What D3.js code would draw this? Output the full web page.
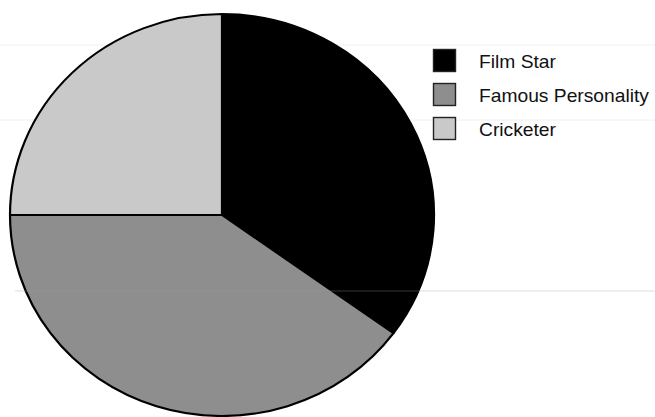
<!DOCTYPE html>
<html>
<head>
<meta charset="utf-8">
<script src="https://cdn.jsdelivr.net/npm/d3@7"></script>
<style>
  html, body { margin: 0; padding: 0; background: #ffffff; }
  svg { display: block; }
</style>
</head>
<body>
<svg id="chart" width="655" height="417"></svg>
<script>
const categories = ["Film Star", "Famous Personality", "Cricketer"];
const values = [35, 40, 25];
const colors = ["#000000", "#8e8e8e", "#c9c9c9"];

const svg = d3.select("#chart");
const W = 655, H = 417;

// faint scan lines in background
const scanLines = [45, 120];
svg.selectAll("line.scan").data(scanLines).enter().append("line")
  .attr("class", "scan")
  .attr("x1", 0).attr("x2", W)
  .attr("y1", d => d).attr("y2", d => d)
  .attr("stroke", "#f0f0f0").attr("stroke-width", 1);

const cx = 222, cy = 215, rx = 212, ry = 201;
const g = svg.append("g")
  .attr("transform", `translate(${cx},${cy}) scale(1,${ry / rx})`);

const pie = d3.pie().sort(null).value(d => d.value);
const arc = d3.arc().innerRadius(0).outerRadius(rx);
const data = categories.map((c, i) => ({ name: c, value: values[i], color: colors[i] }));

g.selectAll("path").data(pie(data)).enter().append("path")
  .attr("d", arc)
  .attr("fill", d => d.data.color)
  .attr("stroke", "#000")
  .attr("stroke-width", 2.2)
  .attr("stroke-linejoin", "round");

// long light scan line across lower part
svg.append("line")
  .attr("x1", 15).attr("x2", W)
  .attr("y1", 291).attr("y2", 291)
  .attr("stroke", "#9a9a9a").attr("stroke-opacity", 0.35).attr("stroke-width", 1.2);

// legend
const legend = svg.append("g").attr("transform", "translate(433,49)");
const items = legend.selectAll("g").data(data).enter().append("g")
  .attr("transform", (d, i) => `translate(0,${i * 34})`);
items.append("rect")
  .attr("x", 0.5).attr("y", 0.5)
  .attr("width", 22).attr("height", 22)
  .attr("fill", d => d.color)
  .attr("stroke", "#222").attr("stroke-width", 1.4);
items.append("text")
  .attr("x", 0).attr("y", 0)
  .attr("font-family", "Liberation Sans, Arial, sans-serif")
  .attr("font-size", 17.5)
  .attr("fill", "#111")
  .attr("transform", "translate(46,18.5) scale(1.1,1)")
  .text(d => d.name);
</script>
</body>
</html>
